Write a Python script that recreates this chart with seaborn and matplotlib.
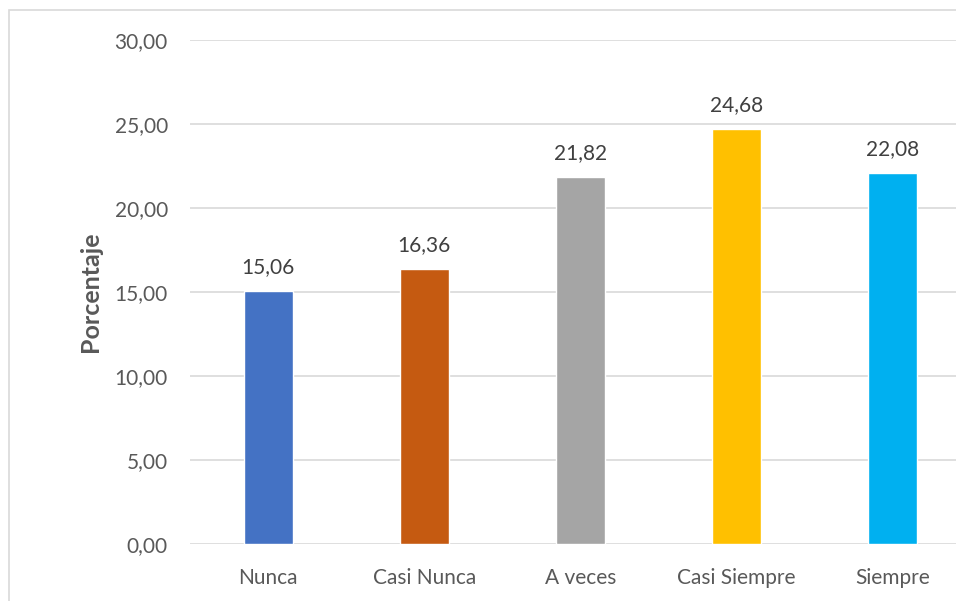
import pandas as pd
import matplotlib.pyplot as plt
import seaborn as sns
from matplotlib.patches import Rectangle

# Data
categorias = ["Nunca", "Casi Nunca", "A veces", "Casi Siempre", "Siempre"]
porcentajes = [15.06, 16.36, 21.82, 24.68, 22.08]
colores = ["#4472C4", "#C55A11", "#A5A5A5", "#FFC000", "#00B0F0"]
yticks = [0, 5, 10, 15, 20, 25, 30]

df = pd.DataFrame({"categoria": categorias, "porcentaje": porcentajes})

sns.set_style("white")
plt.rcParams["font.family"] = ["Lato", "DejaVu Sans"]

fig = plt.figure(figsize=(9.56, 6.01), dpi=100)
# the original is a cropped Excel chart, so the plot area runs past the right edge
ax = fig.add_axes([190 / 956, 57 / 601, 781 / 956, 504 / 601])

# outer chart border (only left/top visible in the crop)
fig.patches.append(Rectangle((9 / 956, -0.1), 1.2, (601 - 10) / 601 + 0.1,
                             transform=fig.transFigure, fill=False,
                             edgecolor="#D9D9D9", linewidth=1.2, zorder=0))

sns.barplot(data=df, x="categoria", y="porcentaje", hue="categoria",
            palette=colores, saturation=1, width=0.314, legend=False, ax=ax, zorder=3)

ax.set_ylim(0, 30)
ax.set_xlim(-0.5, 4.5)
ax.set_yticks(yticks)
ax.set_yticklabels([f"{v:.2f}".replace(".", ",") for v in yticks])
ax.yaxis.grid(True, color="#D9D9D9", linewidth=1.2, zorder=0)
ax.set_axisbelow(True)
for s in ax.spines.values():
    s.set_visible(False)
ax.tick_params(axis="both", length=0, labelsize=15, colors="#595959")
ax.tick_params(axis="y", pad=16)
ax.tick_params(axis="x", pad=17)

ax.set_xlabel("")
ax.set_ylabel("Porcentaje", fontsize=18, fontweight="bold", color="#595959", labelpad=9)

# value labels
for i, v in enumerate(porcentajes):
    ax.annotate(f"{v:.2f}".replace(".", ","), (i, v), xytext=(0, 10),
                textcoords="offset points", ha="center", va="bottom",
                fontsize=15, color="#404040")

plt.savefig("out.png", dpi=100)
